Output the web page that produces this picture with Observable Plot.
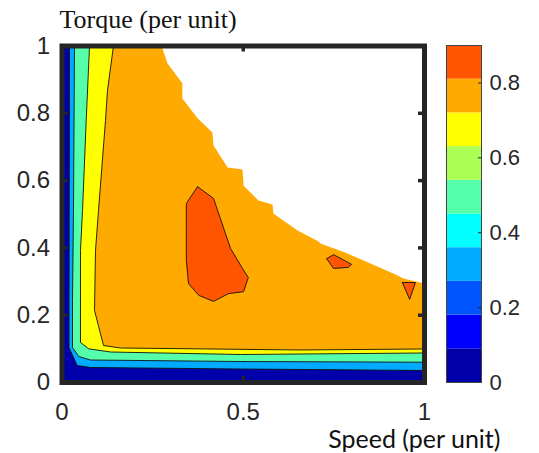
<!DOCTYPE html>
<html><head><meta charset="utf-8">
<script src="https://cdn.jsdelivr.net/npm/d3@7"></script>
<script src="https://cdn.jsdelivr.net/npm/@observablehq/plot@0.6"></script>
<style>
body{margin:0;background:#fff;}
#wrap{position:relative;width:539px;height:453px;}
#wrap svg{position:absolute;top:0;}
</style></head><body><div id="wrap"></div>
<script>
// ---- data ----
const xTicks = [0, 0.5, 1];
const yTicks = [0, 0.2, 0.4, 0.6, 0.8, 1];
const levels = [0, 0.09, 0.18, 0.27, 0.36, 0.45, 0.54, 0.63, 0.72, 0.81, 0.9];
const bandColors = ["#0000AA","#0000FF","#0055FF","#00AAFF","#00FFFF","#55FFAA","#AAFF55","#FFFF00","#FFAA00","#FF5500"];
const cbTicks = [0, 0.2, 0.4, 0.6, 0.8];
// contour lines [speed, torque], traced from the top edge round to the right edge
const edge27 = [[0.0207,1],[0.0193,0.104],[0.0419,0.0505],[0.0786,0.0446],[0.492,0.0401],[1,0.0357]];
const edge45 = [[0.0345,1],[0.0317,0.511],[0.029,0.244],[0.029,0.104],[0.0463,0.0773],[0.0786,0.0669],[0.492,0.0624],[1,0.0603]];
const edge63 = [[0.0759,1],[0.0668,0.779],[0.0566,0.511],[0.051,0.392],[0.051,0.119],[0.0739,0.100],[0.134,0.0906],[0.492,0.0832],[1,0.0877]];
const edge72 = [[0.142,1],[0.1255,0.868],[0.120,0.779],[0.1007,0.511],[0.0924,0.392],[0.0897,0.214],[0.1145,0.110],[0.161,0.1025],[0.658,0.0966],[1,0.0996]];
// limit of the operating region (no data beyond)
const noDataEdge = [[0.272,1],[0.277,0.993],[0.291,0.948],[0.332,0.889],[0.332,0.844],[0.374,0.785],[0.415,0.743],[0.418,0.704],[0.457,0.639],[0.498,0.633],[0.501,0.585],[0.542,0.541],[0.581,0.529],[0.583,0.502],[0.650,0.452],[0.708,0.419],[0.713,0.413],[0.788,0.383],[0.843,0.357],[0.920,0.321],[0.942,0.309],[1,0.294]];
// 0.81 islands
const peak1 = [[0.374,0.582],[0.418,0.547],[0.437,0.487],[0.465,0.398],[0.498,0.339],[0.514,0.312],[0.501,0.270],[0.459,0.264],[0.418,0.241],[0.377,0.259],[0.349,0.294],[0.343,0.363],[0.343,0.461],[0.343,0.532]];
const peak2 = [[0.730,0.368],[0.749,0.380],[0.799,0.351],[0.790,0.342],[0.749,0.339]];
const peak3 = [[0.939,0.297],[0.975,0.297],[0.959,0.247]];

// ---- build ----
const color = {type: "threshold", domain: levels.slice(1, -1), range: bandColors};
const corner = [1, 1];
const regions = [
  {level: levels[3], pts: [...edge27, corner]},
  {level: levels[5], pts: [...edge45, corner]},
  {level: levels[7], pts: [...edge63, corner]},
  {level: levels[8], pts: [...edge72, corner]}
];
const peaks = [peak1, peak2, peak3].map(p => [...p, p[0]]);
const mid = l => l + 0.045;
const X = d => d[0], Y = d => d[1];
const ink = "#262626";
const tickFont = "Liberation Sans, Arial, sans-serif";

const marks = [Plot.frame({fill: bandColors[0], stroke: null})];
for (const r of regions) marks.push(Plot.line(r.pts, {x: X, y: Y, fill: () => mid(r.level), stroke: null}));
marks.push(Plot.line([...noDataEdge, corner], {x: X, y: Y, fill: "white", stroke: null}));
for (const p of peaks) marks.push(Plot.line(p, {x: X, y: Y, fill: () => mid(levels[9]), stroke: null}));
for (const e of [edge27, edge45, edge63, edge72]) marks.push(Plot.line(e, {x: X, y: Y, stroke: "#111", strokeWidth: 0.9}));
for (const p of peaks) marks.push(Plot.line(p, {x: X, y: Y, stroke: "#111", strokeWidth: 0.9}));
const tx = 6 / 362.5, ty = 6 / 336.5;
marks.push(
  Plot.ruleY(yTicks, {y: d => d, x1: 0, x2: tx, stroke: ink, strokeWidth: 3.5}),
  Plot.ruleY(yTicks, {y: d => d, x1: 1 - tx, x2: 1, stroke: ink, strokeWidth: 3.5}),
  Plot.ruleX(xTicks, {x: d => d, y1: 0, y2: ty, stroke: ink, strokeWidth: 3.5}),
  Plot.ruleX(xTicks, {x: d => d, y1: 1 - ty, y2: 1, stroke: ink, strokeWidth: 3.5}),
  Plot.frame({stroke: ink, strokeWidth: 5}),
  Plot.axisX({ticks: xTicks, tickSize: 0, tickPadding: 20, tickFormat: d => String(d), fontSize: 24, fontFamily: tickFont, fill: ink}),
  Plot.axisY({ticks: yTicks, tickSize: 0, tickPadding: 12, tickFormat: d => String(d), fontSize: 24, fontFamily: tickFont, fill: ink}),
  Plot.text(["Torque (per unit)"], {frameAnchor: "top-left", textAnchor: "start", lineAnchor: "bottom", dx: -2.5, dy: -18.5, fontSize: 26, fontFamily: "Liberation Serif, Times New Roman, serif", fill: "#111"}),
  Plot.text(["Speed (per unit)"], {frameAnchor: "bottom-right", textAnchor: "end", lineAnchor: "bottom", dx: 76, dy: 65, fontSize: 25, fontFamily: "Lato, sans-serif", fill: "#111"})
);

const main = Plot.plot({
  width: 539, height: 453,
  marginLeft: 61.5, marginRight: 115, marginTop: 45.5, marginBottom: 71,
  x: {domain: [0, 1]}, y: {domain: [0, 1]},
  color,
  style: {background: "transparent", overflow: "visible"},
  marks
});
main.style.left = "0px";

const bands = bandColors.map((c, i) => ({y1: levels[i], y2: levels[i + 1]}));
const cb = Plot.plot({
  width: 119, height: 453,
  marginLeft: 26, marginRight: 58, marginTop: 45, marginBottom: 71,
  x: {domain: [0, 1], axis: null}, y: {domain: [levels[0], levels[levels.length - 1]]},
  color,
  style: {background: "transparent", overflow: "visible"},
  marks: [
    Plot.rect(bands, {x1: 0, x2: 1, y1: "y1", y2: "y2", fill: d => (d.y1 + d.y2) / 2}),
    Plot.ruleY(cbTicks, {y: d => d, x1: 1 - 3 / 35, x2: 1, stroke: ink, strokeWidth: 1}),
    Plot.frame({stroke: "#444", strokeWidth: 1}),
    Plot.axisY({anchor: "right", ticks: cbTicks, tickSize: 0, tickPadding: 8, tickFormat: d => String(d), fontSize: 22, fontFamily: tickFont, fill: ink})
  ]
});
cb.style.left = "420px";
const wrap = document.getElementById("wrap");
wrap.appendChild(main);
wrap.appendChild(cb);
</script></body></html>
